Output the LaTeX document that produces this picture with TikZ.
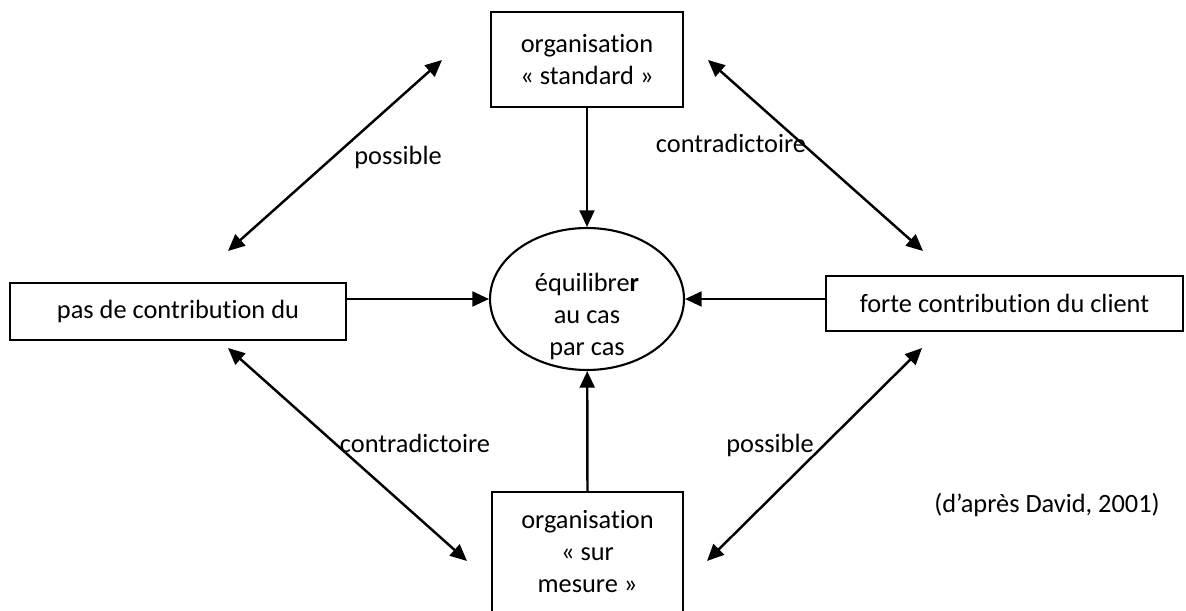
\documentclass[tikz,border=0pt]{standalone}
\usepackage{fontspec}
\setmainfont{Carlito}[Ligatures=NoCommon]
\usetikzlibrary{arrows.meta,shapes.geometric,calc}
\begin{document}
\begin{tikzpicture}[x=0.02cm,y=-0.02cm,
  every node/.style={font=\fontsize{15}{18.2}\selectfont, align=center, inner sep=0pt},
  box/.style={draw, line width=1.2pt},
  tip/.tip={Triangle[length=9.5pt,width=8.5pt]},
  conn/.style={line width=1.4pt, -tip},
  dbl/.style={line width=1.4pt, tip-tip},
  lbl/.style={anchor=base}]
\clip (0,0) rectangle (1186,611);
% nodes
\node[box, minimum width=3.84cm, minimum height=1.9cm] (top) at (587,59.5) {organisation\\« standard »};
\node[draw, line width=1.2pt, ellipse, minimum width=3.88cm, minimum height=2.84cm] (circ) at (587,299) {};
\node (circtxt) at (587,316) {équilibre\textbf{r}\\au cas\\par cas};
\node[box, minimum width=6.72cm, minimum height=1.14cm] (left) at (178,311.5) {pas de contribution du};
\node[box, minimum width=7.14cm, minimum height=1.1cm] (right) at (1004.5,303.5) {forte contribution du client};
\node[minimum width=3.82cm, minimum height=2.4cm] (bot) at (587.5,552) {organisation\\« sur\\mesure »};
\draw[line width=1.2pt] ([yshift=-1cm]bot.south west) |- (bot.north east) -- ([yshift=-1cm]bot.south east);
% straight connectors
\draw[conn] (top) -- (circ);
\draw[conn] (bot.north) -- (circ);
\draw[conn] (left.east |- circ.west) -- (circ.west);
\draw[conn] (right.west |- circ.east) -- (circ.east);
% double arrows
\coordinate (ula) at (228,251); \coordinate (ulb) at (442,60);
\coordinate (ura) at (708,60);  \coordinate (urb) at (923,251);
\coordinate (lla) at (228,348); \coordinate (llb) at (467,561);
\coordinate (lra) at (922,348); \coordinate (lrb) at (707,561);
\draw[dbl] (ula) -- (ulb);
\draw[dbl] (ura) -- (urb);
\draw[dbl] (lla) -- (llb);
\draw[dbl] (lra) -- (lrb);
% labels
\node[lbl] (l1) at (398,165) {possible};
\node[lbl] (l2) at (731,153) {contradictoire};
\node[lbl] (l3) at (415,452) {contradictoire};
\node[lbl] (l4) at (770,452) {possible};
\node[lbl] (credit) at (1047,512) {(d’après David, 2001)};
\end{tikzpicture}
\end{document}
